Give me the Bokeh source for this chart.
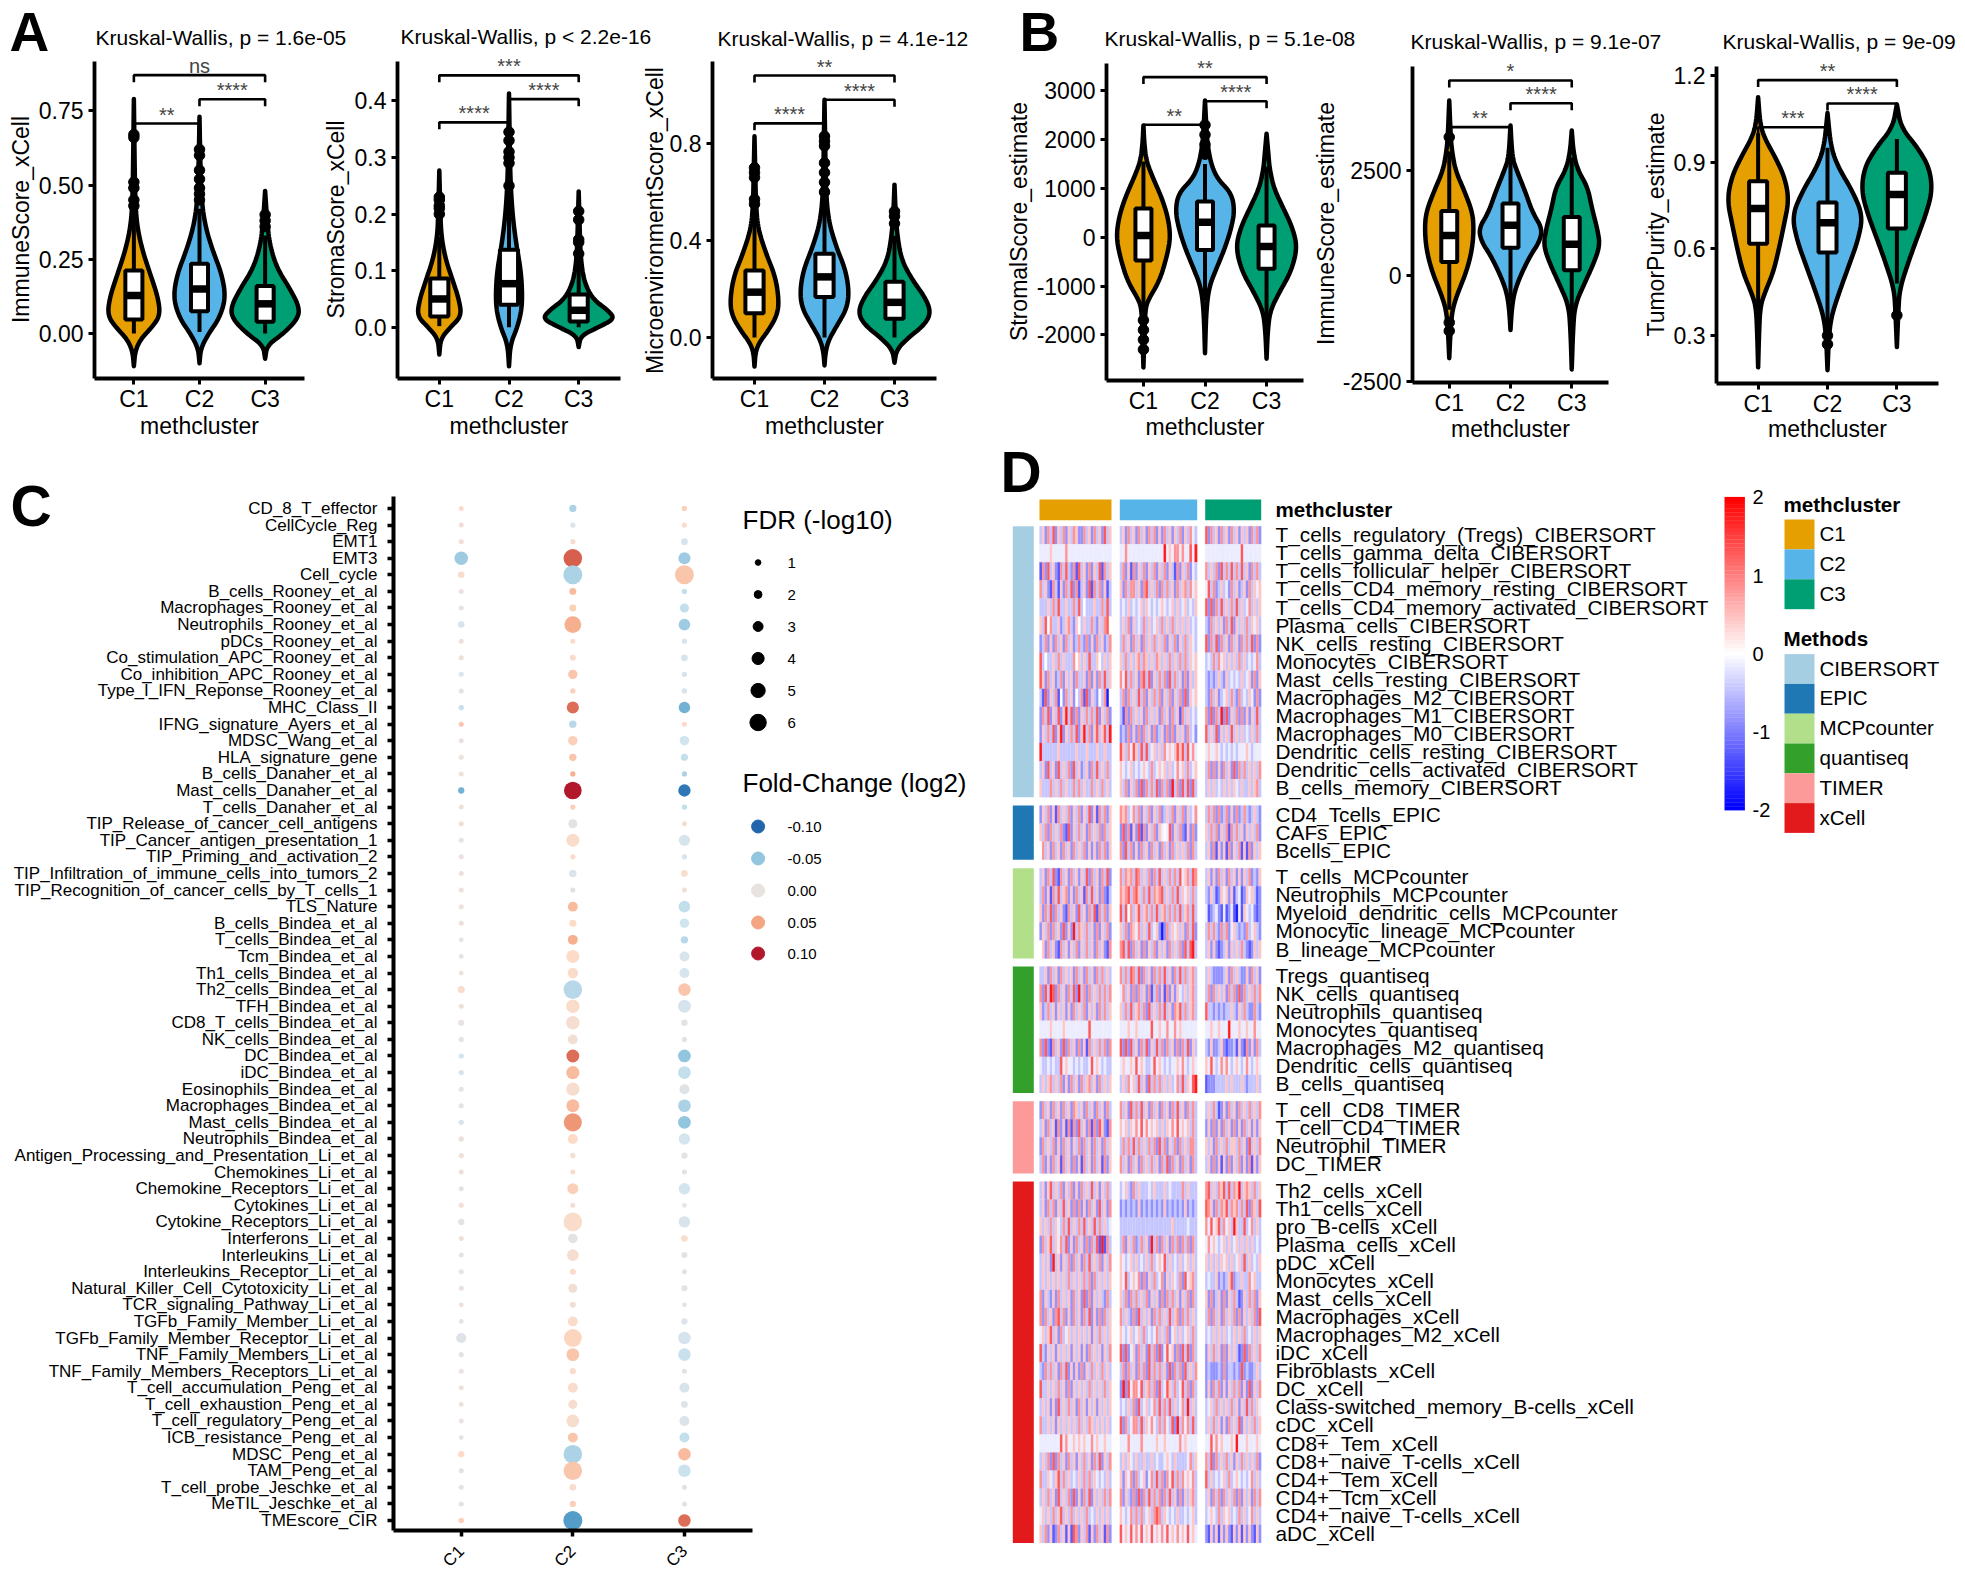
import math
import numpy as np
from bokeh.plotting import figure
from bokeh.models import Range1d, Label, FixedTicker, NumeralTickFormatter, ColumnDataSource, LinearAxis
from bokeh.embed import file_html
from bokeh.resources import INLINE

FONT = "Liberation Sans"
cluster_names = ["C1", "C2", "C3"]
cluster_colors = ["#E69F00", "#56B4E9", "#009E73"]

# ---------- Panels A / B data: violin profile (value, half width), box, outliers, brackets
A1_y = [[-.11,-.06,-.02,.02,.06,.12,.2,.28,.36,.45,.6,.79],
        [-.10,-.05,0,.05,.12,.2,.28,.36,.45,.6,.73],
        [-.085,-.04,0,.05,.09,.15,.22,.3,.38,.48]]
A1_w = [[0,.02,.1,.27,.4,.37,.25,.13,.05,.02,.01,0],
        [0,.02,.14,.3,.4,.34,.2,.09,.03,.01,0],
        [0,.03,.28,.5,.52,.38,.18,.07,.03,0]]
A1_box = [[.047,.128,.212,0,.42],[.075,.15,.235,.005,.42],[.04,.1,.16,0,.33]]
A1_out = [[.67,.66,.51,.49,.45,.43],[.62,.6,.55,.52,.49,.47,.45],[.40,.38,.36]]
A1_br = [[1,2,.707,"**"],[2,3,.789,"****"],[1,3,.87,"ns"]]

A2_y = [[-.048,-.02,0,.02,.05,.08,.12,.16,.2,.277],
        [-.069,-.03,0,.03,.06,.1,.15,.2,.26,.33,.413],
        [-.035,-.015,0,.015,.03,.05,.08,.12,.17,.24]]
A2_w = [[0,.02,.16,.32,.28,.2,.09,.03,.015,0],
        [0,.02,.12,.18,.19,.17,.1,.05,.02,.01,0],
        [0,.03,.28,.52,.42,.2,.08,.03,.015,0]]
A2_box = [[.019,.05,.086,.002,.16],[.04,.077,.137,0,.26],[.01,.03,.058,0,.12]]
A2_out = [[.23,.225,.215,.21,.2],[.345,.33,.31,.3,.29,.25],[.205,.19,.155,.15,.13]]
A2_br = [[1,2,.362,"****"],[2,3,.403,"****"],[1,3,.445,"***"]]

A3_y = [[-.12,-.06,-.02,.03,.09,.15,.25,.35,.45,.55,.7,.83],
        [-.115,-.06,-.01,.05,.12,.19,.28,.38,.48,.6,.8,.98],
        [-.104,-.05,0,.05,.1,.16,.24,.32,.42,.52,.63]]
A3_w = [[0,.015,.07,.2,.32,.35,.3,.16,.05,.02,.01,0],
        [0,.015,.06,.18,.32,.35,.3,.16,.06,.02,.01,0],
        [0,.03,.2,.42,.52,.45,.25,.1,.04,.015,0]]
A3_box = [[.1,.187,.276,0,.55],[.167,.25,.345,0,.6],[.077,.145,.23,0,.42]]
A3_out = [[.7,.68,.66,.57,.55],[.83,.81,.79,.72,.68,.64,.6],[.52,.5,.47]]
A3_br = [[1,2,.883,"****"],[2,3,.98,"****"],[1,3,1.08,"**"]]

B1_y = [[-2670,-2000,-1500,-1300,-900,-400,0,400,800,1200,1550,1900,2290],
        [-2377,-1500,-1000,-600,-200,200,550,900,1200,1500,1900,2300,2800],
        [-2490,-1900,-1500,-1100,-700,-210,200,600,1000,1400,1700,2120]]
B1_w = [[0,.015,.03,.07,.26,.38,.44,.4,.3,.16,.05,.015,0],
        [0,.02,.07,.2,.33,.43,.48,.43,.2,.1,.04,.02,0],
        [0,.02,.06,.22,.4,.5,.42,.27,.12,.05,.03,0]]
B1_box = [[-477,35,588,-1550,1550],[-260,307,730,-1300,1500],[-645,-190,240,-1800,1450]]
B1_out = [[-1700,-1900,-2100,-2300],[1700,1900,2100,2300],[]]
B1_br = [[1,2,2303,"**"],[2,3,2787,"****"],[1,3,3280,"**"]]

B2_y = [[-1945,-1300,-800,-400,100,600,1080,1500,2000,2500,3000,3400,4150],
        [-1280,-800,-400,0,500,800,1120,1500,2000,2500,2800,3560],
        [-2210,-1300,-700,-200,300,725,1100,1600,2100,2500,2900,3440]]
B2_w = [[0,.02,.05,.14,.28,.37,.4,.38,.25,.1,.04,.02,0],
        [0,.02,.06,.16,.33,.47,.52,.36,.24,.1,.03,0],
        [0,.02,.05,.2,.36,.46,.42,.33,.26,.1,.03,0]]
B2_box = [[330,960,1535,-800,2950],[670,1200,1715,-600,3000],[135,750,1395,-1000,2800]]
B2_out = [[3285,-1100,-1300],[],[]]
B2_br = [[1,2,3520,"**"],[2,3,4087,"****"],[1,3,4624,"*"]]

B3_y = [[.19,.3,.4,.45,.52,.6,.68,.77,.85,.92,.98,1.03,1.125],
        [.18,.3,.37,.45,.55,.63,.715,.8,.88,.95,1.07],
        [.26,.38,.46,.55,.63,.72,.8,.88,.95,1.02,1.1]]
B3_w = [[0,.012,.03,.1,.22,.3,.37,.445,.38,.24,.1,.03,0],
        [0,.02,.06,.17,.32,.44,.51,.36,.16,.05,0],
        [0,.02,.04,.16,.28,.42,.51,.47,.3,.06,0]]
B3_box = [[.618,.74,.834,.36,1.0],[.587,.69,.76,.3,.95],[.67,.788,.863,.48,.98]]
B3_out = [[],[.27,.3],[.37]]
B3_br = [[1,2,1.021,"***"],[2,3,1.103,"****"],[1,3,1.184,"**"]]

# ---------- Panel C data
gs_names = ["CD_8_T_effector","CellCycle_Reg","EMT1","EMT3","Cell_cycle","B_cells_Rooney_et_al","Macrophages_Rooney_et_al",
 "Neutrophils_Rooney_et_al","pDCs_Rooney_et_al","Co_stimulation_APC_Rooney_et_al","Co_inhibition_APC_Rooney_et_al",
 "Type_I_IFN_Reponse_Rooney_et_al","MHC_Class_II","IFNG_signature_Ayers_et_al","MDSC_Wang_et_al","HLA_signature_gene",
 "B_cells_Danaher_et_al","Mast_cells_Danaher_et_al","T_cells_Danaher_et_al","TIP_Release_of_cancer_cell_antigens",
 "TIP_Cancer_antigen_presentation_1","TIP_Priming_and_activation_2","TIP_Infiltration_of_immune_cells_into_tumors_2",
 "TIP_Recognition_of_cancer_cells_by_T_cells_1","TLS_Nature","B_cells_Bindea_et_al","T_cells_Bindea_et_al","Tcm_Bindea_et_al",
 "Th1_cells_Bindea_et_al","Th2_cells_Bindea_et_al","TFH_Bindea_et_al","CD8_T_cells_Bindea_et_al","NK_cells_Bindea_et_al",
 "DC_Bindea_et_al","iDC_Bindea_et_al","Eosinophils_Bindea_et_al","Macrophages_Bindea_et_al","Mast_cells_Bindea_et_al",
 "Neutrophils_Bindea_et_al","Antigen_Processing_and_Presentation_Li_et_al","Chemokines_Li_et_al","Chemokine_Receptors_Li_et_al",
 "Cytokines_Li_et_al","Cytokine_Receptors_Li_et_al","Interferons_Li_et_al","Interleukins_Li_et_al","Interleukins_Receptor_Li_et_al",
 "Natural_Killer_Cell_Cytotoxicity_Li_et_al","TCR_signaling_Pathway_Li_et_al","TGFb_Family_Member_Li_et_al",
 "TGFb_Family_Member_Receptor_Li_et_al","TNF_Family_Members_Li_et_al","TNF_Family_Members_Receptors_Li_et_al",
 "T_cell_accumulation_Peng_et_al","T_cell_exhaustion_Peng_et_al","T_cell_regulatory_Peng_et_al","ICB_resistance_Peng_et_al",
 "MDSC_Peng_et_al","TAM_Peng_et_al","T_cell_probe_Jeschke_et_al","MeTIL_Jeschke_et_al","TMEscore_CIR"]
fdr_C1 = [.7,.7,.7,4.7,1.4,.7,.7,1.4,.7,.7,.7,.7,.8,.7,.7,.7,.7,1.3,.7,.7,.7,.7,.7,.7,.7,.7,.6,.6,.6,1.7,.7,1.2,.8,.8,.8,.7,.7,.8,.8,.8,.7,.7,.7,1.3,.7,.7,.7,.7,.6,.6,3.1,.7,.7,.7,.6,.7,.6,1.3,.7,.7,.7,.9]
fdr_C2 = [1.7,.8,.8,7,7.2,1.6,1.6,6.2,.7,1.2,2.7,.8,4,1.8,2.8,1.8,.8,6.6,.8,2.6,4.4,.8,1.8,.8,3,1.7,3,4.4,3.2,7,4.6,4.7,3,4.4,4.5,4.5,4.4,6.8,3,.9,.7,3.5,.7,7,2.8,3.8,1.2,2.6,1.2,3,6.7,4.3,1.3,3,2.6,4.3,3,7,7,1.5,1.3,7.2]
fdr_C3 = [.8,.8,1.5,4,7.2,.9,2.6,3.8,.8,1.5,.8,.8,3.7,.7,2.8,1.7,.8,4.1,.9,.7,3.6,.8,1.5,.7,3.8,2.8,1.8,3,3,4.2,4.4,1.4,.8,4.3,4.3,3,4.3,4.3,3.7,1.3,.7,3.7,.6,3.7,1.4,1.2,.7,1.2,.6,1.3,4.2,4.2,.7,3,1.5,3,3,4.2,4.2,.7,.7,4.2]
fc_C1 = [.02,.01,.012,-.045,.02,.003,.004,-.02,.004,.006,-.015,-.005,-.03,.035,.002,.003,.005,-.06,.006,.01,.001,.003,.004,.004,.005,.006,0,0,.006,.02,.007,0,0,-.025,-.018,0,-.003,-.02,.006,.008,.006,-.005,.012,-.005,.012,-.002,0,.004,.006,-.003,-.012,-.006,.001,.003,.004,.001,-.008,.025,-.01,-.005,-.012,.03]
fc_C2 = [-.04,-.015,.018,.075,-.04,.04,.03,.045,.02,.02,.035,.03,.07,-.035,.03,.035,.045,.1,.03,-.004,.022,.02,-.015,-.01,.04,.025,.045,.025,.022,-.035,.022,.015,.012,.07,.04,.018,.04,.055,.025,.012,.02,.03,.012,.022,-.004,.016,.02,.012,.012,.02,.028,.035,.018,.02,.016,.018,.035,-.04,.035,.018,.03,-.07]
fc_C3 = [.03,.02,-.02,-.045,.035,-.03,-.03,-.045,-.02,-.02,-.02,-.02,-.06,.025,-.025,-.03,-.04,-.09,-.03,.012,-.02,-.02,.018,.012,-.03,-.025,-.035,-.018,-.02,.035,-.02,-.004,-.003,-.05,-.03,-.01,-.04,-.05,-.022,-.006,-.004,-.022,0,-.018,.018,-.006,-.003,-.004,.001,-.012,-.02,-.028,-.002,-.018,-.012,-.014,-.03,.04,-.027,-.012,-.014,.07]
fdr_legend = [1,2,3,4,5,6]
fc_legend = [-.10,-.05,0,.05,.10]
fc_legend_text = ["-0.10","-0.05","0.00","0.05","0.10"]

# ---------- Panel D data
method_names = ["CIBERSORT","EPIC","MCPcounter","quantiseq","TIMER","xCell"]
method_colors = ["#A6CEE3","#1F78B4","#B2DF8A","#33A02C","#FB9A99","#E31A1C"]
method_rows = [15,3,5,7,4,20]
heat_labels = ["T_cells_regulatory_(Tregs)_CIBERSORT","T_cells_gamma_delta_CIBERSORT","T_cells_follicular_helper_CIBERSORT",
 "T_cells_CD4_memory_resting_CIBERSORT","T_cells_CD4_memory_activated_CIBERSORT","Plasma_cells_CIBERSORT","NK_cells_resting_CIBERSORT",
 "Monocytes_CIBERSORT","Mast_cells_resting_CIBERSORT","Macrophages_M2_CIBERSORT","Macrophages_M1_CIBERSORT","Macrophages_M0_CIBERSORT",
 "Dendritic_cells_resting_CIBERSORT","Dendritic_cells_activated_CIBERSORT","B_cells_memory_CIBERSORT",
 "CD4_Tcells_EPIC","CAFs_EPIC","Bcells_EPIC",
 "T_cells_MCPcounter","Neutrophils_MCPcounter","Myeloid_dendritic_cells_MCPcounter","Monocytic_lineage_MCPcounter","B_lineage_MCPcounter",
 "Tregs_quantiseq","NK_cells_quantiseq","Neutrophils_quantiseq","Monocytes_quantiseq","Macrophages_M2_quantiseq","Dendritic_cells_quantiseq","B_cells_quantiseq",
 "T_cell_CD8_TIMER","T_cell_CD4_TIMER","Neutrophil_TIMER","DC_TIMER",
 "Th2_cells_xCell","Th1_cells_xCell","pro_B-cells_xCell","Plasma_cells_xCell","pDC_xCell","Monocytes_xCell","Mast_cells_xCell","Macrophages_xCell",
 "Macrophages_M2_xCell","iDC_xCell","Fibroblasts_xCell","DC_xCell","Class-switched_memory_B-cells_xCell","cDC_xCell","CD8+_Tem_xCell",
 "CD8+_naive_T-cells_xCell","CD4+_Tem_xCell","CD4+_Tcm_xCell","CD4+_naive_T-cells_xCell","aDC_xCell"]
# one character per vertical stripe
heat_scale = {"a":-.15,"0":-1.8,"1":-1.3,"2":-.85,"3":-.45,"4":0,"5":.45,"6":.85,"7":1.3,"8":1.8}
heat_C1 = ["3526372536253652263526352735","aaaa5aaaaa6aaaaaaaaaaaaaaaaa","1627352163732617352625371635","6352163152637261352716362513",
 "3335363733533637343335336373","5374633523563254353363253674","2362526352635236326252635236","7343353635333645353733543535",
 "7526352362535263352625263735","3172536142635243617253243604","2637253725837262536363725362","2536372582536372583625735738",
 "8333333533333353335333533533","3527352735362735235263735363","5333635363533636353363536353",
 "2536251635362536253725163625","5362635362172536352635362635","4635263526352635362525263625",
 "3526372163526352537263526372","3625163735625263516373526213","5263726352163527352637163625","2536263527252836536352625362","4526352163525362536352635216",
 "3352635263535263526352636353","6273872635263728362635363636","5236352535252635362535263635","aaaa5aaaa5aaaaaaaaa7aaaaaaaa","6272163527263526251635363626","a33a3a337a5aa3a3a33a7a5a3a33","3535635362526352635635263535",
 "2635263526352653526352635263","3526351625161627352616275216","2635362526352536263526352635","3625263516352625163526351625",
 "3525735362536252635373525363","3526362537352626252635273526","5353635a3637353637353736353a","2635735a63725263526263718163","3535283525362635263735362536",
 "3535353535363535363626353535","6253252635352635272625353263","6263526736252635263725262635","a535735263a53535353525363535","7325352535352535252635352536",
 "3263635263725252625363536353","7335353635262535353635353635","3535252735363526352535253535","6335352535353536353653535353","aaaaaaaa7a6aa5a5a5aa6a5aa5aa",
 "3536272635263525363526372536","6335a35736353a35363635a3a353","3536352735362725263725353636","a5353635735363535363a3535353","5362512635151762536152635162"]
heat_C2 = ["3526352635263625263525362536a3","aa6aaaaaaaaaaaaaa8a5a66a6aa7a8","3625162536253625362531625362a3","5263663526735362636352635636a5",
 "3a353a3a535a3a3a5a3a5353a53a35","3536253a36353a53635363535353a3","3635263526353635362536253635a3","5363535636535365353635363635a5",
 "6a7363526737253636273635262535","3626353736253636253625362725a5","3162635352635352635263516353a3","2326252626352623526262535263a2",
 "7536a7537373a53536a5a575737a6a","5a3a53a3a5a363a5a5353a6a5363a5","536253627263637263628362737273",
 "6563a63625362536235362536253a6","2726152716253625a4a72536215262","627362526352635263526353536263",
 "636563763536263735363637a56376","6567367536373656735363735a5363","737463573563637356363637356373","536265a635373a5202635a53526372","673726352625362535263536273783",
 "636376372635263637352637363563","a6352626352613625162525a353563","536373563627353637352657363563","aaa5aa5aaaaa7aa5aa6aa6a5aaaaaa","727273526372537362635262637253","a5aa5a7a5a33a7a5a3a3aa5a6a3a5a","3536a5373527363635353a63735a78",
 "635273637352635263526373526363","5a535a6a7a6a5a53535a6a7a5a5363","363637363536362736253626353663","635263526353635263726352635263",
 "3a532635333a3533353a3333635333","232323252323232325232323252323","33333333333333333333533333a333","362536236352836263526362636263","5a3a5353a35363a5a7353a353a5353",
 "5a73a5a62625363a62535a3627a563","536263635362535262636352536263","635326273535263635373562636353","5a3a53a5363a3a635362a5353a5363","7272a526352736272a7a5262737263",
 "362635263627363635272636273536","2827a66a735636273a75363a736263","3a3536273a53a6373637353a638353","7263a663735a6a3636a372836a6373","aaa6aaaa6aaaaa5aa5aaaaa6a5aaaa",
 "3535a353353353a33a5a353333a635","525a6263a52a6373626a73636a5a63","625326272637363626373526253563","5a3a636363a5367635a3a3533a3a53","7a5a7a6a7a5a7a5a6a7a5a6a5a7a5a"]
heat_C3 = ["7263526352635253526362","aaaaaaaaaaaaaa7aaaaaaa","6353627363736373526363","a7362353a26352352635a5",
 "7272637353637353a63535","3263535263725353635a53","7263726352635263637262","3a3636a5353536353a3a63",
 "3232353253a3a353a52625","3263523a5363263a35a262","6272638272536262525373","7353725353735353a35363",
 "a5aa5a3a3a3a3aaa5a3aaa","3626252635272636353536","35353a353535a353353563",
 "3636262362526236323532","5363625361636352535362","3526152516253615162535",
 "3525263526352525362325","3253125a52513a125a5312","a123a21a12a10a15a3a212","3636326362a5323263a532","3525212352535363212535",
 "3532222352635322526352","3626353526362726353636","7332323233532536322632","aa5aa5aaa8aaa5aa5aa6aa","3252235212231521625263","5a7a3a6a6a3a5a3a6a3a5a","1222333353533353233353",
 "3536312526352635363536","2526252635262526352525","5352635363553635273536","3526251526253625261525",
 "6735365737365835653635","7652636573656363726537","6a7a5736a53853373a6353","a6a5a3a5353a53535353a3","5353535a5353a537353a35",
 "3a3352323572335336a533","5262352625363125363625","3626352635362625353627","3a3535353a3535363a3535","2536352625353127263536",
 "2322232623323272322353","2526362525363625272536","3a5363535363525373635a","3536352526353725353635","aa7a6a5aaa5a8aaa5aaa5a",
 "6372635363525363535362","7353a3a5363a5a3a3a6353","3526362635362625352636","3a5a3635a53a36353a6353","2152515252152515252152"]

blue_white_red = ["#0000FF","#FFFFFF","#FF0000"]
rdbu_stops = ["#2166ac","#4393c3","#92c5de","#d1e5f0","#e8e2e0","#fddbc7","#f4a582","#d6604d","#b2182b"]

# ---------- helpers
def hex2rgb(h): return np.array([int(h[i:i+2],16) for i in (1,3,5)],float)
def ramp(stops, lo, hi, v):
    t = (min(max(v,lo),hi)-lo)/(hi-lo)*(len(stops)-1)
    i = min(int(t), len(stops)-2)
    c = hex2rgb(stops[i])*(1-(t-i)) + hex2rgb(stops[i+1])*(t-i)
    return "#%02x%02x%02x" % tuple(int(round(x)) for x in c)

def smooth(y, w, n=3):
    p = np.column_stack([y,w])
    for _ in range(n):
        q = [p[0]]
        for a,b in zip(p[:-1],p[1:]):
            q += [.75*a+.25*b, .25*a+.75*b]
        q.append(p[-1])
        p = np.array(q)
    return p[:,0], p[:,1]

W, H = 1960, 1570
# one figure; each panel has its own pair of ranges
p = figure(frame_width=W, frame_height=H, x_range=Range1d(0,W), y_range=Range1d(H,0),
           output_backend="svg", toolbar_location=None, x_axis_location=None, y_axis_location=None,
           title=None, title_location=None, min_border=0)
p.grid.visible = False
p.outline_line_color = None

def panel_ranges(name, xr, yr, box):
    fl,fr,ft,fb = box
    dx = (xr[1]-xr[0])/(fr-fl); dy = (yr[1]-yr[0])/(fb-ft)
    p.extra_x_ranges[name] = Range1d(xr[0]-fl*dx, xr[1]+(W-fr)*dx)
    p.extra_y_ranges[name] = Range1d(yr[0]-(H-fb)*dy, yr[1]+ft*dy)
    return dict(x_range_name=name, y_range_name=name)

def txt(x, y, s, size, align="left", baseline="middle", angle=0, bold=False, color="black"):
    p.add_layout(Label(x=x, y=y, text=s, text_font=FONT,
                       text_font_size=f"{size}px", text_align=align, text_baseline=baseline, angle=angle,
                       text_font_style="bold" if bold else "normal", text_color=color))

def style_axis(ax, size, lw, tw, out, standoff):
    ax.axis_line_width = lw
    ax.axis_line_color = "black"
    ax.major_tick_line_width = tw
    ax.major_tick_line_color = "black"
    ax.major_tick_out = out
    ax.major_tick_in = 0
    ax.minor_tick_line_color = None
    ax.major_label_text_font = FONT
    ax.major_label_text_font_size = f"{size}px"
    ax.major_label_text_color = "black"
    ax.major_label_standoff = standoff

def violin_panel(name, fl, fr, ft, fb, yrange, ticks, fmt, vy, vw, box, out, br, ylabel, ylab_x, ylab_y, xlab_y):
    rn = panel_ranges(name, (.4,3.6), yrange, (fl,fr,ft,fb))
    xa = LinearAxis(fixed_location=yrange[0], bounds=(.4,3.6), ticker=FixedTicker(ticks=[1,2,3]),
                    major_label_overrides={i+1:n for i,n in enumerate(cluster_names)}, **rn)
    ya = LinearAxis(fixed_location=.4, bounds=tuple(yrange), ticker=FixedTicker(ticks=ticks),
                    formatter=NumeralTickFormatter(format=fmt), **rn)
    style_axis(xa, 23, 3.8, 3, 6, 1)
    style_axis(ya, 23, 3.8, 3, 6, 5)
    p.add_layout(xa, "below")
    p.add_layout(ya, "left")
    for i in range(3):
        y, w = smooth(vy[i], vw[i])
        x = np.concatenate([i+1-w, (i+1+w)[::-1]])
        yy = np.concatenate([y, y[::-1]])
        p.patch(x, yy, fill_color=cluster_colors[i], line_color="black", line_width=4.5, line_join="round", **rn)
        q1, med, q3, lo, hi = box[i]
        p.segment([i+1],[lo],[i+1],[hi], line_color="black", line_width=4, **rn)
        if out[i]:
            p.scatter([i+1]*len(out[i]), out[i], size=10.5, color="black", **rn)
        p.quad(left=[i+1-.13], right=[i+1+.13], bottom=[q1], top=[q3], fill_color="white", line_color="black", line_width=4, **rn)
        p.segment([i+1-.13],[med],[i+1+.13],[med], line_color="black", line_width=7.5, **rn)
    tip = 7/(fb-ft)*(yrange[1]-yrange[0])
    for a, b, h, lab in br:
        p.line([a,a,b,b],[h-tip,h,h,h-tip], line_color="black", line_width=2.6, **rn)
        p.add_layout(Label(x=(a+b)/2, y=h, text=lab, text_font=FONT, text_font_size="20px", text_align="center",
                           text_baseline="middle", y_offset=9, **rn))
    txt((fl+fr)/2, xlab_y-1, "methcluster", 23, align="center")
    txt(ylab_x, ylab_y, ylabel, 23, align="center", angle=math.pi/2)

violin_panel("a1",94,304,61,378,(-.1515,.916),[0,.25,.5,.75],"0.00",A1_y,A1_w,A1_box,A1_out,A1_br,"ImmuneScore_xCell",20,219,426)
violin_panel("a2",397,620,61,378,(-.0905,.4695),[0,.1,.2,.3,.4],"0.0",A2_y,A2_w,A2_box,A2_out,A2_br,"StromaScore_xCell",335,219,426)
violin_panel("a3",712,936,61,378,(-.169,1.138),[0,.4,.8],"0.0",A3_y,A3_w,A3_box,A3_out,A3_br,"MicroenvironmentScore_xCell",654,220,426)
violin_panel("b1",1106,1303,63,380,(-2936,3559),[-2000,-1000,0,1000,2000,3000],"0",B1_y,B1_w,B1_box,B1_out,B1_br,"StromalScore_estimate",1018,221,427)
violin_panel("b2",1412,1608,66,382,(-2520,4955),[-2500,0,2500],"0",B2_y,B2_w,B2_box,B2_out,B2_br,"ImmuneScore_estimate",1325,223,429)
violin_panel("b3",1716,1938,66,383,(.134,1.231),[.3,.6,.9,1.2],"0.0",B3_y,B3_w,B3_box,B3_out,B3_br,"TumorPurity_estimate",1655,224,429)

for x,y,s in [(95,37,"Kruskal-Wallis, p = 1.6e-05"),(400,36,"Kruskal-Wallis, p < 2.2e-16"),(717,38,"Kruskal-Wallis, p = 4.1e-12"),
              (1104,38,"Kruskal-Wallis, p = 5.1e-08"),(1410,41,"Kruskal-Wallis, p = 9.1e-07"),(1722,41,"Kruskal-Wallis, p = 9e-09")]:
    txt(x,y,s,21)
txt(9,31,"A",55,bold=True)
txt(1019,31,"B",55,bold=True)

# ---------- panel C
rc = panel_ranges("c",(.393,3.61),(62.6,.28),(393,752,496,1530))
xa = LinearAxis(fixed_location=62.6, bounds=(.393,3.61), ticker=FixedTicker(ticks=[1,2,3]),
                major_label_overrides={i+1:n for i,n in enumerate(cluster_names)}, major_label_orientation=math.pi/4, **rc)
ya = LinearAxis(fixed_location=.393, bounds=(.28,62.6), ticker=FixedTicker(ticks=list(range(1,len(gs_names)+1))),
                major_label_overrides={i+1:n for i,n in enumerate(gs_names)}, **rc)
style_axis(xa, 17, 4, 3.5, 6, 12)
style_axis(ya, 17, 4, 3.5, 6, 10)
p.add_layout(xa,"below")
p.add_layout(ya,"left")
def dot_size(f): return 3.5+2.15*f
xs,ys,ss,cs = [],[],[],[]
for j,(fd,fc) in enumerate([(fdr_C1,fc_C1),(fdr_C2,fc_C2),(fdr_C3,fc_C3)]):
    for i,(a,b) in enumerate(zip(fd,fc)):
        xs.append(j+1); ys.append(i+1); ss.append(dot_size(a)); cs.append(ramp(rdbu_stops,-.1,.1,b))
p.scatter(x="x", y="y", size="s", fill_color="c", line_color=None, marker="circle",
          source=ColumnDataSource(dict(x=xs,y=ys,s=ss,c=cs)), **rc)
txt(742,519,"FDR (-log10)",26)
ly = [562,594,626,658,690,722]
p.scatter([757.6]*6, ly, size=[dot_size(f) for f in fdr_legend], color="black")
for y,f in zip(ly,fdr_legend): txt(787,y,str(f),15)
txt(742,782,"Fold-Change (log2)",26)
ly2 = [826,858,890,922,953]
p.scatter([757.6]*5, ly2, size=13, color=[ramp(rdbu_stops,-.1,.1,v) for v in fc_legend])
for y,t in zip(ly2,fc_legend_text): txt(787,y,t,15)
txt(10,505,"C",57,bold=True)

# ---------- panel D
group_x = [(1039,1111),(1119.3,1196.7),(1204.7,1260.7)]
block_top = [525.7,805,867.7,966,1100.7,1181]
row_h = 18.07
L,R,T,B,C = [],[],[],[],[]
idx = 0
for m,(n,t0) in enumerate(zip(method_rows,block_top)):
    p.quad(left=[1012.3],right=[1033.3],top=[t0],bottom=[t0+n*row_h],fill_color=method_colors[m],line_color=None)
    for r in range(n):
        y0 = t0+r*row_h
        for g,hs in enumerate((heat_C1,heat_C2,heat_C3)):
            s = hs[idx]
            a,b = group_x[g]
            dx = (b-a)/len(s)
            for k,ch in enumerate(s):
                L.append(a+k*dx); R.append(a+(k+1)*dx); T.append(y0); B.append(y0+row_h)
                C.append(ramp(blue_white_red,-2,2,heat_scale[ch]))
        txt(1275,y0+row_h/2-.5,heat_labels[idx],20.8)
        idx += 1
p.quad(left="l",right="r",top="t",bottom="b",fill_color="c",line_color="c",line_width=.2,
       source=ColumnDataSource(dict(l=L,r=R,t=T,b=B,c=C)))
for g,(a,b) in enumerate(group_x):
    p.quad(left=[a],right=[b],top=[499],bottom=[519.7],fill_color=cluster_colors[g],line_color=None)
txt(1275,509,"methcluster",20.6,bold=True)
# colour bar
cb_vals = np.linspace(2,-2,81)
cb_step = (809.6-496.4)/len(cb_vals)
p.quad(left=[1724]*len(cb_vals),right=[1744.4]*len(cb_vals),
       top=[496.4+i*cb_step for i in range(len(cb_vals))],bottom=[496.4+(i+1)*cb_step+.3 for i in range(len(cb_vals))],
       fill_color=[ramp(blue_white_red,-2,2,v) for v in cb_vals],line_color=None)
for y,t in zip([496,575,653,731,809],["2","1","0","-1","-2"]):
    txt(1752,y,t,20)
txt(1783,504,"methcluster",20.6,bold=True)
for i,n in enumerate(cluster_names):
    y = 519+i*29.9
    p.quad(left=[1784],right=[1814],top=[y],bottom=[y+29.9],fill_color=cluster_colors[i],line_color=None)
    txt(1819,y+14,n,20.6)
txt(1783,638,"Methods",20.6,bold=True)
for i,n in enumerate(method_names):
    y = 653.6+i*29.8
    p.quad(left=[1784],right=[1814],top=[y],bottom=[y+29.8],fill_color=method_colors[i],line_color=None)
    txt(1819,y+14,n,20.6)
txt(1000,471,"D",57,bold=True)

open("out.html","w").write(file_html(p, INLINE))
